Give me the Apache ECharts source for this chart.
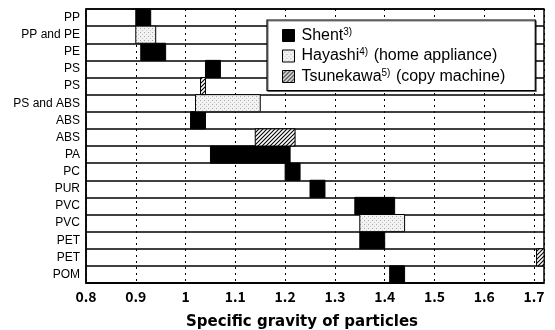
<!DOCTYPE html>
<html>
<head>
<meta charset="utf-8">
<script src="https://cdn.jsdelivr.net/npm/echarts@6/dist/echarts.min.js"></script>
<style>html,body{margin:0;padding:0;background:#fff;}#c{width:555px;height:330px;}</style>
</head>
<body>
<div id="c"></div>
<script>
// ---- data ----
const categories = ['PP','PP and PE','PE','PS','PS','PS and ABS','ABS','ABS','PA','PC','PUR','PVC','PVC','PET','PET','POM'];
// [row index, from, to]
const shent = [[0,0.90,0.93],[2,0.91,0.96],[3,1.04,1.07],[6,1.01,1.04],[8,1.05,1.21],[9,1.20,1.23],[10,1.25,1.28],[11,1.34,1.42],[13,1.35,1.40],[15,1.41,1.44]];
const hayashi = [[1,0.90,0.94],[5,1.02,1.15],[12,1.35,1.44]];
const tsunekawa = [[4,1.03,1.04],[7,1.14,1.22],[14,1.705,1.72]];
const seriesNames = ['Shent','Hayashi','Tsunekawa'];
const legendLabels = {Shent:'{t|Shent}{s|3)}', Hayashi:'{t|Hayashi}{s|4)}{t| (home appliance)}', Tsunekawa:'{t|Tsunekawa}{s|5)}{t| (copy machine)}'};
const xMin = 0.8, xMax = 1.72, xStep = 0.1;

// ---- patterns ----
function hatch(){
  const c = document.createElement('canvas'); c.width = 4; c.height = 4;
  const g = c.getContext('2d');
  g.fillStyle = '#fff'; g.fillRect(0,0,4,4);
  g.strokeStyle = '#000'; g.lineWidth = 1.1;
  g.beginPath();
  g.moveTo(-1,5); g.lineTo(5,-1);
  g.moveTo(-1,1); g.lineTo(1,-1);
  g.moveTo(3,5); g.lineTo(5,3);
  g.stroke();
  return c;
}
function dots(){
  const c = document.createElement('canvas'); c.width = 4; c.height = 4;
  const g = c.getContext('2d');
  g.fillStyle = '#f2f2f2'; g.fillRect(0,0,4,4);
  g.fillStyle = '#a8a8a8'; g.fillRect(0,0,1,1);
  g.fillStyle = '#c8c8c8'; g.fillRect(2,2,1,1);
  return c;
}
const fills = [
  '#000',
  {image: dots(), repeat: 'repeat'},
  {image: hatch(), repeat: 'repeat'}
];

function renderItem(params, api){
  const cat = api.value(0), s = api.value(1), e = api.value(2);
  const p0 = api.coord([s, cat]);
  const p1 = api.coord([e, cat]);
  const h = api.size([0, 1])[1];
  return {
    type: 'rect',
    shape: {x: p0[0], y: p0[1] - h/2, width: p1[0] - p0[0], height: h},
    style: api.style({stroke: '#000', lineWidth: 1})
  };
}

const datasets = [shent, hayashi, tsunekawa];
const chart = echarts.init(document.getElementById('c'), null, {renderer: 'canvas'});
chart.setOption({
  animation: false,
  backgroundColor: '#fff',
  grid: {left: 86, right: 11, top: 9, bottom: 47, containLabel: false, outerBoundsMode: 'none',
         show: true, borderColor: '#000', borderWidth: 1.5, backgroundColor: '#fff'},
  xAxis: {
    type: 'value', min: xMin, max: xMax, interval: xStep,
    name: 'Specific gravity of particles', nameLocation: 'middle', nameGap: 32,
    nameTextStyle: {fontFamily: 'DejaVu Sans', fontWeight: 'bold', fontSize: 15, color: '#000', padding: [0, 26, 0, 0]},
    axisLine: {show: true, lineStyle: {color: '#000', width: 1.5}},
    axisTick: {show: false},
    axisLabel: {
      showMaxLabel: false,
      fontFamily: 'Noto Sans CJK JP', fontWeight: 'bold', fontSize: 14, color: '#000', margin: 7,
      formatter: v => String(Math.round(v * 10) / 10)
    },
    splitLine: {show: true, lineStyle: {color: '#000', width: 1, type: [2, 4]}}
  },
  yAxis: {
    type: 'category', data: categories, inverse: true,
    axisLine: {show: true, lineStyle: {color: '#000', width: 1.5}},
    axisTick: {show: false},
    axisLabel: {fontFamily: 'Liberation Sans', fontSize: 12, color: '#000', margin: 6},
    splitLine: {show: true, lineStyle: {color: '#000', width: 1.5}}
  },
  legend: {
    data: seriesNames, orient: 'vertical', left: 267, top: 20,
    padding: [7, 30, 6, 15], itemGap: 4, itemWidth: 12, itemHeight: 12,
    backgroundColor: '#fff', borderColor: '#000', borderWidth: 1.2,
    shadowColor: 'rgba(0,0,0,0.5)', shadowOffsetX: 1, shadowOffsetY: 1, shadowBlur: 0,
    icon: 'rect',
    itemStyle: {borderColor: '#000', borderWidth: 1},
    formatter: n => legendLabels[n],
    textStyle: {
      color: '#000', padding: [0, 0, 0, 2],
      rich: {
        t: {fontFamily: 'Liberation Sans', fontSize: 16, color: '#000', lineHeight: 17},
        s: {fontFamily: 'Liberation Sans', fontSize: 10, color: '#000', verticalAlign: 'top', lineHeight: 10, padding: [0, 1, 6, 0]}
      }
    }
  },
  series: datasets.map((d, i) => ({
    type: 'custom', name: seriesNames[i],
    renderItem: renderItem,
    encode: {x: [1, 2], y: 0},
    itemStyle: {color: fills[i], borderColor: '#000', borderWidth: 1},
    data: d,
    z: 5
  }))
});
</script>
</body>
</html>
